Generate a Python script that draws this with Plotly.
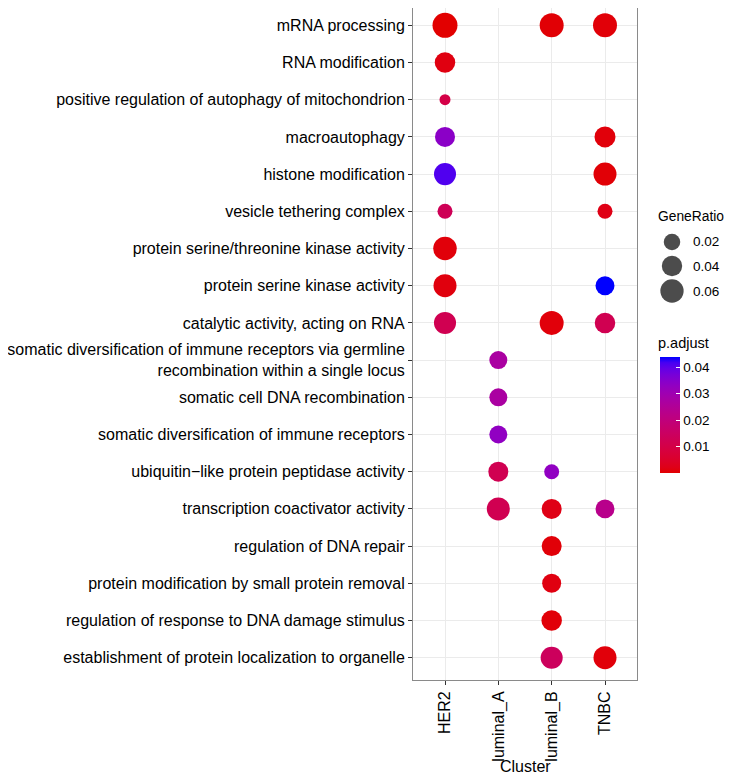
import plotly.graph_objects as go
import numpy as np

# The page body adds an 8px margin; design in reference pixels and shift by OFF.
OFF = 8
W, H = 732 - OFF, 777 - OFF

clusters = ["HER2", "luminal_A", "luminal_B", "TNBC"]
terms = [
    "mRNA processing",
    "RNA modification",
    "positive regulation of autophagy of mitochondrion",
    "macroautophagy",
    "histone modification",
    "vesicle tethering complex",
    "protein serine/threonine kinase activity",
    "protein serine kinase activity",
    "catalytic activity, acting on RNA",
    "somatic diversification of immune receptors via germline<br>recombination within a single locus",
    "somatic cell DNA recombination",
    "somatic diversification of immune receptors",
    "ubiquitin\u2212like protein peptidase activity",
    "transcription coactivator activity",
    "regulation of DNA repair",
    "protein modification by small protein removal",
    "regulation of response to DNA damage stimulus",
    "establishment of protein localization to organelle",
]

pt_cluster = ["HER2", "luminal_B", "TNBC",
              "HER2",
              "HER2",
              "HER2", "TNBC",
              "HER2", "TNBC",
              "HER2", "TNBC",
              "HER2",
              "HER2", "TNBC",
              "HER2", "luminal_B", "TNBC",
              "luminal_A",
              "luminal_A",
              "luminal_A",
              "luminal_A", "luminal_B",
              "luminal_A", "luminal_B", "TNBC",
              "luminal_B",
              "luminal_B",
              "luminal_B",
              "luminal_B", "TNBC"]
pt_term = [0, 0, 0,
           1,
           2,
           3, 3,
           4, 4,
           5, 5,
           6,
           7, 7,
           8, 8, 8,
           9,
           10,
           11,
           12, 12,
           13, 13, 13,
           14,
           15,
           16,
           17, 17]
gene_ratio = [0.073, 0.065, 0.065,
              0.041,
              0.0033,
              0.038, 0.044,
              0.051, 0.058,
              0.014, 0.014,
              0.062,
              0.058, 0.032,
              0.051, 0.065, 0.041,
              0.027,
              0.027,
              0.027,
              0.038, 0.014,
              0.058, 0.038, 0.032,
              0.038,
              0.032,
              0.041,
              0.051, 0.058]
p_adjust = [0.00005, 0.0005, 0.0008,
            0.0015,
            0.010,
            0.034, 0.0010,
            0.041, 0.0006,
            0.013, 0.0020,
            0.0010,
            0.0012, 0.0438,
            0.012, 0.0010, 0.012,
            0.027,
            0.027,
            0.033,
            0.012, 0.033,
            0.012, 0.0020, 0.023,
            0.0008,
            0.0015,
            0.0008,
            0.014, 0.0010]

legend_ratios = [0.02, 0.04, 0.06]
legend_labels = ["0.02", "0.04", "0.06"]
cbar_ticks = [0.01, 0.02, 0.03, 0.04]
cbar_labels = ["0.01", "0.02", "0.03", "0.04"]


def diam(v):
    return 7.2 + 65.7 * np.sqrt(np.asarray(v, dtype=float))


def px(x):
    return min(max((x - OFF) / W, 0.0), 1.0)


def py(y):
    return min(max(1 - (y - OFF) / H, 0.0), 1.0)


# panel in reference pixels: rows from -0.6..17.6 span y 3..680
PANEL_TOP, PANEL_BOT = 3, 680
row_px = (PANEL_BOT - PANEL_TOP) / 18.2
vis_top = max(PANEL_TOP, OFF)
y_range_top = -0.6 + (vis_top - PANEL_TOP) / row_px


# --- Lab interpolation red -> blue (like ggplot's gradient) ---
def srgb_to_lab(rgb):
    c = np.array(rgb, dtype=float) / 255.0
    c = np.where(c <= 0.04045, c / 12.92, ((c + 0.055) / 1.055) ** 2.4)
    M = np.array([[0.4124564, 0.3575761, 0.1804375],
                  [0.2126729, 0.7151522, 0.0721750],
                  [0.0193339, 0.1191920, 0.9503041]])
    xyz = M @ c
    wp = np.array([0.95047, 1.0, 1.08883])
    t = xyz / wp
    f = np.where(t > (6 / 29) ** 3, np.cbrt(t), t / (3 * (6 / 29) ** 2) + 4 / 29)
    return np.array([116 * f[1] - 16, 500 * (f[0] - f[1]), 200 * (f[1] - f[2])])


def lab_to_srgb(lab):
    L, a, b = lab
    fy = (L + 16) / 116
    fx = fy + a / 500
    fz = fy - b / 200

    def finv(t):
        return t ** 3 if t > 6 / 29 else 3 * (6 / 29) ** 2 * (t - 4 / 29)
    wp = np.array([0.95047, 1.0, 1.08883])
    xyz = np.array([finv(fx), finv(fy), finv(fz)]) * wp
    Mi = np.array([[3.2404542, -1.5371385, -0.4985314],
                   [-0.9692660, 1.8760108, 0.0415560],
                   [0.0556434, -0.2040259, 1.0572252]])
    c = np.clip(Mi @ xyz, 0, 1)
    c = np.where(c <= 0.0031308, 12.92 * c, 1.055 * c ** (1 / 2.4) - 0.055)
    c = np.clip(np.round(c * 255), 0, 255).astype(int)
    return "rgb(%d,%d,%d)" % tuple(c)


lab_lo = srgb_to_lab([226, 0, 0])
lab_hi = srgb_to_lab([0, 0, 255])
colorscale = [[t, lab_to_srgb(lab_lo + (lab_hi - lab_lo) * t)] for t in np.linspace(0, 1, 21)]

FONT = "Liberation Sans, Arial, sans-serif"

fig = go.Figure()

fig.add_trace(go.Scatter(
    x=pt_cluster,
    y=[terms[i] for i in pt_term],
    mode="markers",
    marker=dict(
        size=diam(gene_ratio),
        sizemode="diameter",
        color=p_adjust,
        colorscale=colorscale,
        cmin=min(p_adjust),
        cmax=max(p_adjust),
        line=dict(width=0),
        opacity=1,
        colorbar=dict(
            x=px(660), xanchor="left",
            y=py(473), yanchor="bottom",
            len=116, lenmode="pixels",
            thickness=20, thicknessmode="pixels",
            outlinewidth=0,
            xpad=0, ypad=0,
            tickvals=cbar_ticks,
            ticktext=cbar_labels,
            ticks="inside", ticklen=4, tickcolor="white", tickwidth=1,
            tickfont=dict(family=FONT, size=13.5, color="#000"),
        ),
    ),
    showlegend=False,
    hoverinfo="skip",
))

# size legend keys drawn on a pixel-space overlay axis
fig.add_trace(go.Scatter(
    x=[672 - OFF] * 3,
    y=[242 - OFF, 266 - OFF, 291 - OFF],
    mode="markers",
    marker=dict(size=diam(legend_ratios), sizemode="diameter", color="black", line=dict(width=0)),
    xaxis="x2", yaxis="y2",
    showlegend=False, hoverinfo="skip",
))

fig.update_layout(
    width=W, height=H,
    margin=dict(l=0, r=0, t=0, b=0),
    paper_bgcolor="white",
    plot_bgcolor="rgba(0,0,0,0)",
    font=dict(family=FONT, color="#000"),
    xaxis=dict(
        domain=[px(413), px(637)],
        type="category",
        categoryorder="array", categoryarray=clusters,
        range=[-0.6, 3.6],
        showgrid=True, gridcolor="#EBEBEB", gridwidth=1.2,
        showline=True, mirror=True, linecolor="#8a8a8a", linewidth=1,
        ticks="outside", ticklen=4, tickcolor="#333", tickwidth=1,
        tickangle=-90,
        tickfont=dict(family=FONT, size=16, color="#000"),
        zeroline=False,
        automargin=False,
        fixedrange=True,
    ),
    yaxis=dict(
        domain=[py(PANEL_BOT), py(vis_top)],
        type="category",
        categoryorder="array", categoryarray=terms,
        range=[17.6, y_range_top],
        showgrid=True, gridcolor="#EBEBEB", gridwidth=1.2,
        showline=True, mirror=True, linecolor="#8a8a8a", linewidth=1,
        ticks="outside", ticklen=4, tickcolor="#333", tickwidth=1,
        tickfont=dict(family=FONT, size=16, color="#000"),
        zeroline=False,
        automargin=False,
        fixedrange=True,
    ),
    xaxis2=dict(domain=[0, 1], range=[0, W], visible=False, anchor="y2", fixedrange=True),
    yaxis2=dict(domain=[0, 1], range=[H, 0], visible=False, anchor="x2", fixedrange=True),
)

ann = [
    dict(text="Cluster", x=px(525), y=py(766), xanchor="center", yanchor="middle",
         font=dict(family=FONT, size=16, color="#000")),
    dict(text="GeneRatio", x=px(656), y=py(217), xanchor="left", yanchor="middle",
         font=dict(family=FONT, size=13.8, color="#000")),
    dict(text="p.adjust", x=px(656), y=py(343), xanchor="left", yanchor="middle",
         font=dict(family=FONT, size=14.5, color="#000")),
]
for lab, yy in zip(legend_labels, [242, 266, 291]):
    ann.append(dict(text=lab, x=px(691), y=py(yy), xanchor="left", yanchor="middle",
                    font=dict(family=FONT, size=13.5, color="#000")))
for a in ann:
    a.update(xref="paper", yref="paper", showarrow=False)
fig.update_layout(annotations=ann)

fig.write_html("out.html")
